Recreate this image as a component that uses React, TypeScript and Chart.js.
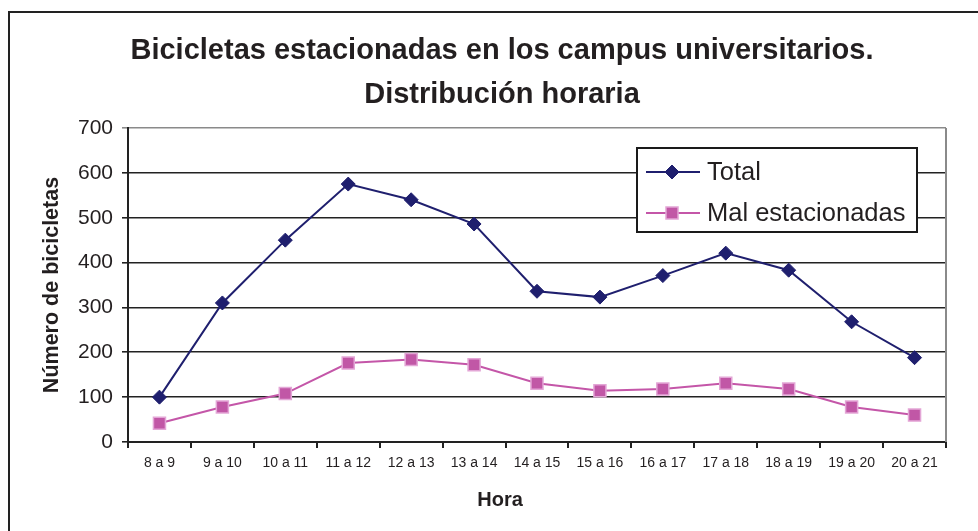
import React, { useEffect, useRef } from "react";
import { Chart, registerables } from "chart.js";

Chart.register(...registerables);

const categories = [
  "8 a 9", "9 a 10", "10 a 11", "11 a 12", "12 a 13", "13 a 14", "14 a 15",
  "15 a 16", "16 a 17", "17 a 18", "18 a 19", "19 a 20", "20 a 21",
];
const totalValues = [100, 310, 450, 575, 540, 486, 336, 323, 371, 421, 383, 268, 188];
const malValues = [42, 78, 108, 176, 184, 172, 131, 114, 118, 131, 118, 78, 60];
const titleLines = ["Bicicletas estacionadas en los campus universitarios.", "Distribución horaria"];
const yTitle = "Número de bicicletas";
const xTitle = "Hora";

const TEXT = "#231f20";
const NAVY = "#1f1f6e";
const PINK = "#c456a8";
const FONT = "Arial, 'Liberation Sans', sans-serif";

const framePlugin = {
  id: "frame",
  beforeDraw(chart: any) {
    const ctx = chart.ctx;
    ctx.save();
    ctx.fillStyle = "#ffffff";
    ctx.fillRect(0, 0, chart.width, chart.height);
    ctx.strokeStyle = "#222";
    ctx.lineWidth = 2;
    ctx.beginPath();
    ctx.moveTo(9, chart.height);
    ctx.lineTo(9, 12);
    ctx.lineTo(chart.width, 12);
    ctx.stroke();
    ctx.restore();
  },
  afterDatasetsDraw(chart: any) {
    const { ctx, chartArea } = chart;
    ctx.save();
    ctx.strokeStyle = "#8a8a8a";
    ctx.lineWidth = 2;
    ctx.beginPath();
    ctx.moveTo(chartArea.right, chartArea.top);
    ctx.lineTo(chartArea.right, chartArea.bottom);
    ctx.stroke();
    ctx.restore();
  },
};

const titlesPlugin = {
  id: "titles",
  afterDraw(chart: any) {
    const ctx = chart.ctx;
    ctx.save();
    ctx.fillStyle = TEXT;
    ctx.textAlign = "center";
    ctx.textBaseline = "middle";
    ctx.font = "bold 29px " + FONT;
    ctx.fillText(titleLines[0], 502, 51);
    ctx.fillText(titleLines[1], 502, 95);
    ctx.font = "bold 20px " + FONT;
    ctx.fillText(xTitle, 500, 500);
    ctx.restore();
  },
};

const legendPlugin = {
  id: "boxLegend",
  afterDraw(chart: any) {
    const ctx = chart.ctx;
    const x0 = 637, y0 = 148, w = 280, h = 84;
    ctx.save();
    ctx.fillStyle = "#fff";
    ctx.fillRect(x0, y0, w, h);
    ctx.strokeStyle = "#1a1a1a";
    ctx.lineWidth = 2;
    ctx.strokeRect(x0, y0, w, h);
    ctx.font = "25.5px " + FONT;
    ctx.textBaseline = "middle";
    ctx.textAlign = "left";
    const rows = [172, 213];
    chart.data.datasets.forEach((ds: any, i: number) => {
      const y = rows[i];
      ctx.strokeStyle = ds.borderColor;
      ctx.lineWidth = ds.borderWidth;
      ctx.beginPath();
      ctx.moveTo(646, y);
      ctx.lineTo(700, y);
      ctx.stroke();
      ctx.fillStyle = ds.pointBackgroundColor;
      ctx.strokeStyle = ds.pointBorderColor;
      ctx.lineWidth = ds.pointBorderWidth;
      if (ds.pointStyle === "rectRot") {
        const r = ds.pointRadius;
        ctx.beginPath();
        ctx.moveTo(672, y - r);
        ctx.lineTo(672 + r, y);
        ctx.lineTo(672, y + r);
        ctx.lineTo(672 - r, y);
        ctx.closePath();
        ctx.fill();
        ctx.stroke();
      } else {
        const s = ds.pointRadius * Math.SQRT1_2;
        ctx.fillRect(672 - s, y - s, 2 * s, 2 * s);
        ctx.strokeRect(672 - s, y - s, 2 * s, 2 * s);
      }
      ctx.fillStyle = TEXT;
      ctx.fillText(ds.label, 707, y + 1);
    });
    ctx.restore();
  },
};

export default function App() {
  const ref = useRef<HTMLCanvasElement | null>(null);
  useEffect(() => {
    if (!ref.current) return;
    const chart = new Chart(ref.current, {
      type: "line",
      data: {
        labels: categories,
        datasets: [
          {
            label: "Total",
            data: totalValues,
            borderColor: NAVY,
            borderWidth: 2,
            pointStyle: "rectRot",
            pointRadius: 7,
            pointBackgroundColor: NAVY,
            pointBorderColor: NAVY,
            pointBorderWidth: 1,
            tension: 0,
          } as any,
          {
            label: "Mal estacionadas",
            data: malValues,
            borderColor: PINK,
            borderWidth: 2,
            pointStyle: "rect",
            pointRadius: 8.5,
            pointBackgroundColor: "#c157a6",
            pointBorderColor: "#e3a6d6",
            pointBorderWidth: 1.5,
            tension: 0,
          } as any,
        ],
      },
      options: {
        animation: false,
        responsive: false,
        layout: { padding: { left: 24, right: 32, top: 128, bottom: 0 } },
        plugins: {
          legend: { display: false },
          tooltip: { enabled: false },
          title: { display: false },
        },
        scales: {
          x: {
            offset: true,
            afterFit(scale: any) { scale.height = 89; },
            grid: { offset: true, drawOnChartArea: false, drawTicks: true, tickLength: 6, color: "#222", lineWidth: 2 },
            border: { color: "#222", width: 2 },
            ticks: {
              color: TEXT,
              padding: 7,
              maxRotation: 0,
              autoSkip: false,
              font: { family: FONT, size: 14 },
            },
          },
          y: {
            min: 0,
            max: 700,
            afterFit(scale: any) { scale.width = 104; },
            grid: {
              color: (c: any) => (c.tick && c.tick.value === 700 ? "#8a8a8a" : "#222"),
              lineWidth: 1.6,
              tickLength: 6,
            },
            border: { color: "#222", width: 2 },
            ticks: {
              stepSize: 100,
              color: TEXT,
              padding: 9,
              font: { family: FONT, size: 21 },
            },
            title: {
              display: true,
              text: yTitle,
              color: TEXT,
              font: { family: FONT, size: 21.5, weight: "bold", lineHeight: 1.2 },
              padding: { top: 15, bottom: 0 },
            },
          },
        },
      },
      plugins: [framePlugin, legendPlugin, titlesPlugin],
    });
    return () => chart.destroy();
  }, []);
  return (
    <div style={{ position: "absolute", left: 0, top: 0, width: 978, height: 531 }}>
      <canvas ref={ref} width={978} height={531} style={{ display: "block", width: 978, height: 531 }} />
    </div>
  );
}
